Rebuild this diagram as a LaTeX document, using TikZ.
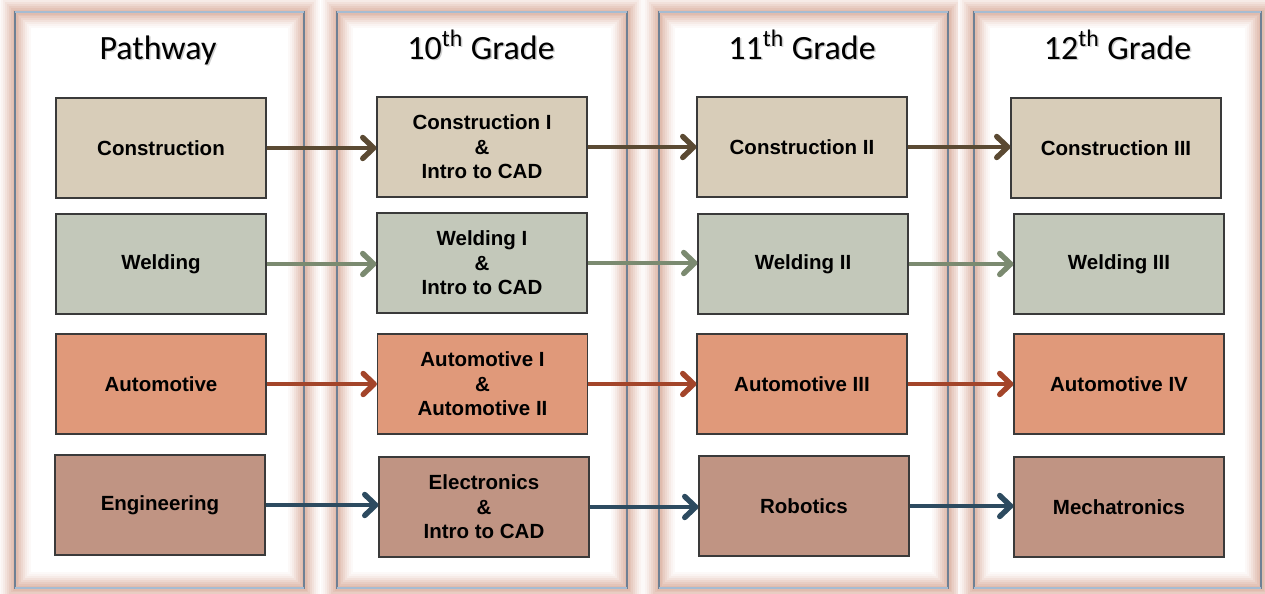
\documentclass[tikz,border=0pt]{standalone}
\usepackage{fontspec}
\setmainfont{Liberation Sans}
\newfontfamily\hdrfont{Carlito}
\usetikzlibrary{arrows.meta}
\definecolor{conF}{HTML}{D8CDB9}
\definecolor{welF}{HTML}{C3C8BA}
\definecolor{autF}{HTML}{E0997A}
\definecolor{engF}{HTML}{C09483}
\definecolor{conA}{HTML}{5B4A33}
\definecolor{welA}{HTML}{7B8A70}
\definecolor{autA}{HTML}{A3452A}
\definecolor{engA}{HTML}{2D4B60}
\definecolor{glowC}{HTML}{D29C88}
\definecolor{rimC}{HTML}{6E8094}
\definecolor{rimT}{HTML}{A6BCD2}
\definecolor{boxL}{HTML}{3A3A3A}
\begin{document}
\begin{tikzpicture}[x=0.5pt,y=-0.5pt,
  box/.style={draw=boxL,line width=0.6pt,minimum width=105pt,minimum height=50pt,
    inner sep=0pt,align=center,font=\bfseries\fontsize{10.25}{12.25}\selectfont},
  hdr/.style={anchor=base,inner sep=0pt,font=\hdrfont\fontsize{17}{20}\selectfont},
  hdrshadow/.style={hdr,text=black!55,opacity=0.35},
  arr/.style={line width=2pt,-{Straight Barb[length=5.5pt,width=10.5pt,line width=2.7pt,round]}}]
\useasboundingbox (0,0) rectangle (1265,594);
\fill[white] (0,0) rectangle (1265,594);
% panels
\foreach \l/\r in {15/304,337/627,659/948,974/1261}{
  \foreach \w/\c in {16/6,14/12,12/20,10/30,8/40,6/50,4/60,2.5/68}{
    \draw[draw=glowC!\c!white,line width=\w pt] (\l,12) rectangle (\r,588);
  }
  \draw[rimC,line width=1.1pt] (\l,12) rectangle (\r,588);
  \draw[rimT,line width=1.1pt] (\l,12) -- (\r,12);
  \draw[rimT,line width=1.1pt] (\l,588) -- (\r,588);
}
% headers
\node[hdrshadow] (h1s) at (159.5,60.5) {Pathway};
\node[hdr] (h1) at (158,59) {Pathway};
\node[hdrshadow] (h2s) at (482.5,60.5) {10\textsuperscript{th} Grade};
\node[hdr] (h2) at (481,59) {10\textsuperscript{th} Grade};
\node[hdrshadow] (h3s) at (803.5,60.5) {11\textsuperscript{th} Grade};
\node[hdr] (h3) at (802,59) {11\textsuperscript{th} Grade};
\node[hdrshadow] (h4s) at (1119,60.5) {12\textsuperscript{th} Grade};
\node[hdr] (h4) at (1117.5,59) {12\textsuperscript{th} Grade};
% row 1
\node[box,fill=conF] (c1) at (161,148) {Construction};
\node[box,fill=conF] (c2) at (482,147) {Construction I\\\&\\Intro to CAD};
\node[box,fill=conF] (c3) at (802,147) {Construction II};
\node[box,fill=conF] (c4) at (1116,148) {Construction III};
% row 2
\node[box,fill=welF] (w1) at (161,264) {Welding};
\node[box,fill=welF] (w2) at (482,263) {Welding I\\\&\\Intro to CAD};
\node[box,fill=welF] (w3) at (803,264) {Welding II};
\node[box,fill=welF] (w4) at (1119,264) {Welding III};
% row 3
\node[box,fill=autF] (a1) at (161,384) {Automotive};
\node[box,fill=autF] (a2) at (482.5,384) {Automotive I\\\&\\Automotive II};
\node[box,fill=autF] (a3) at (802,384) {Automotive III};
\node[box,fill=autF] (a4) at (1119,384) {Automotive IV};
% row 4
\node[box,fill=engF] (e1) at (160,505) {Engineering};
\node[box,fill=engF] (e2) at (484,507) {Electronics\\\&\\Intro to CAD};
\node[box,fill=engF] (e3) at (804,506) {Robotics};
\node[box,fill=engF] (e4) at (1119,507) {Mechatronics};
% arrows
\draw[arr,conA] (c1.east) -- (c2.west |- c1.east);
\draw[arr,conA] (c2.east) -- (c3.west |- c2.east);
\draw[arr,conA] (c3.east) -- (c4.west |- c3.east);
\draw[arr,welA] (w1.east) -- (w2.west |- w1.east);
\draw[arr,welA] (w2.east) -- (w3.west |- w2.east);
\draw[arr,welA] (w3.east) -- (w4.west |- w3.east);
\draw[arr,autA] (a1.east) -- (a2.west |- a1.east);
\draw[arr,autA] (a2.east) -- (a3.west |- a2.east);
\draw[arr,autA] (a3.east) -- (a4.west |- a3.east);
\draw[arr,engA] (e1.east) -- (e2.west |- e1.east);
\draw[arr,engA] (e2.east) -- (e3.west |- e2.east);
\draw[arr,engA] (e3.east) -- (e4.west |- e3.east);
\end{tikzpicture}
\end{document}
